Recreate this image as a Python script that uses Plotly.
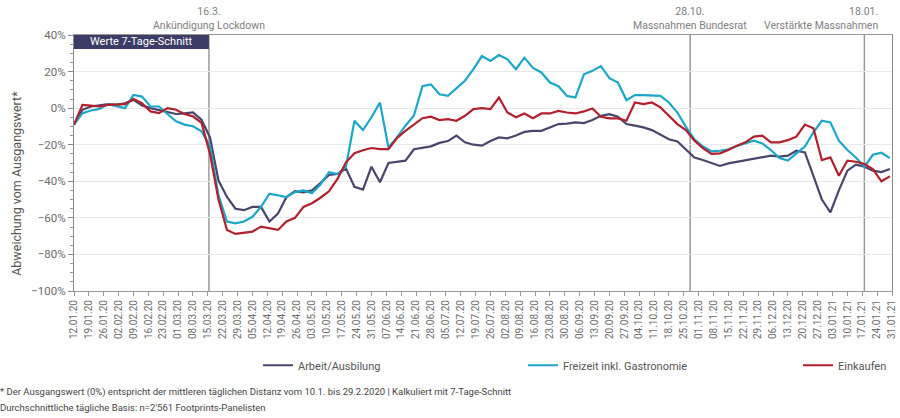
import pandas as pd
import plotly.graph_objects as go

# ---- data (4-day spacing) ----
dates = [
    "2020-01-12", "2020-01-16", "2020-01-20", "2020-01-24", "2020-01-28", "2020-02-01", "2020-02-05", "2020-02-09",
    "2020-02-13", "2020-02-17", "2020-02-21", "2020-02-25", "2020-02-29", "2020-03-04", "2020-03-08", "2020-03-12",
    "2020-03-16", "2020-03-20", "2020-03-24", "2020-03-28", "2020-04-01", "2020-04-05", "2020-04-09", "2020-04-13",
    "2020-04-17", "2020-04-21", "2020-04-25", "2020-04-29", "2020-05-03", "2020-05-07", "2020-05-11", "2020-05-15",
    "2020-05-19", "2020-05-23", "2020-05-27", "2020-05-31", "2020-06-04", "2020-06-08", "2020-06-12", "2020-06-16",
    "2020-06-20", "2020-06-24", "2020-06-28", "2020-07-02", "2020-07-06", "2020-07-10", "2020-07-14", "2020-07-18",
    "2020-07-22", "2020-07-26", "2020-07-30", "2020-08-03", "2020-08-07", "2020-08-11", "2020-08-15", "2020-08-19",
    "2020-08-23", "2020-08-27", "2020-08-31", "2020-09-04", "2020-09-08", "2020-09-12", "2020-09-16", "2020-09-20",
    "2020-09-24", "2020-09-28", "2020-10-02", "2020-10-06", "2020-10-10", "2020-10-14", "2020-10-18", "2020-10-22",
    "2020-10-26", "2020-10-30", "2020-11-03", "2020-11-07", "2020-11-11", "2020-11-15", "2020-11-19", "2020-11-23",
    "2020-11-27", "2020-12-01", "2020-12-05", "2020-12-09", "2020-12-13", "2020-12-17", "2020-12-21", "2020-12-25",
    "2020-12-29", "2021-01-02", "2021-01-06", "2021-01-10", "2021-01-14", "2021-01-18", "2021-01-22", "2021-01-26",
    "2021-01-30",
]

arbeit = [
    -9, -0.9, 0.9, 1.4, 2.2, 1.8, 2.7, 4.5, 1.4, 0,
    -1, -2.2, -3.2, -2.9, -2.3, -6.3, -16, -39.6, -48.6, -55,
    -55.8, -54, -54, -62, -57.6, -48.6, -45.4, -46, -45, -41,
    -36.5, -36, -33, -43, -44.5, -32, -40.5, -30, -29.5, -28.7,
    -22.5, -21.5, -20.9, -19, -18, -15, -18.7, -20, -20.5, -18,
    -16, -16.5, -15, -13, -12.4, -12.4, -10.5, -8.7, -8.5, -7.8,
    -8.2, -6.5, -4.2, -3.3, -4.7, -8.7, -9.6, -10.5, -12, -14.5,
    -17, -18.2, -22.4, -27, -28.4, -30.2, -31.6, -30.2, -29.3, -28.7,
    -27.8, -26.5, -26, -26.5, -26, -23.3, -24.2, -37, -50, -57,
    -45, -34.2, -30.9, -32, -34.2, -35, -33.3,
]

freizeit = [
    -9, -2.7, -1.3, -0.4, 2.2, 0.9, 0, 7.2, 6.3, 0.9,
    0.9, -3.2, -7.2, -9, -9.9, -12.6, -20.7, -47.7, -62, -63,
    -62, -59.4, -54, -46.8, -47.7, -48.6, -45.9, -45, -46.5, -41.8,
    -35, -36, -32, -6.9, -12, -5, 3, -21.5, -16, -9.6,
    -4, 12, 13, 7.6, 6.7, 11, 15, 21.3, 28.5, 25.8,
    29, 26.7, 21.3, 27.6, 22, 19.5, 14, 12, 6.7, 5.8,
    18.5, 20.4, 23, 16.4, 14, 4.4, 7.1, 7.1, 6.7, 6.7,
    3.1, -2.4, -10.2, -17, -21, -23.6, -23.3, -22.5, -20.7, -19.3,
    -17.8, -19.3, -22.9, -27.3, -28.7, -24.7, -21, -13.3, -6.9, -7.8,
    -17.8, -22.9, -27, -32, -25.5, -24.4, -27.3,
]

einkaufen = [
    -9, 1.8, 1.4, 0.9, 1.8, 2.2, 2.2, 5, 2.7, -1.8,
    -2.7, 0, -0.9, -3.2, -4.5, -8, -25, -50, -66.6, -68.8,
    -68, -67.5, -64.8, -65.7, -66.6, -62, -60, -54, -52, -49,
    -45.5, -38.7, -29.6, -24.7, -23, -21.8, -22.4, -22.4, -16.4, -12.4,
    -9, -5.5, -4.7, -6.5, -6, -6.9, -4.2, -0.5, 0, -0.5,
    5.8, -2.4, -5, -2.9, -5.5, -2.9, -2.9, -1.5, -2.4, -2.9,
    -1.8, -0.2, -4.7, -5.6, -5.6, -6.9, 3.1, 2.2, 3.1, 0.4,
    -4.2, -8.7, -12, -17.8, -21.8, -25, -24.7, -22.9, -20.5, -18.7,
    -15.6, -15, -18.7, -18.7, -17.5, -15.6, -9, -11, -28.4, -26.9,
    -37, -28.7, -29.3, -30.5, -33.3, -40, -37.3,
]

series_names = ["Arbeit/Ausbilung", "Freizeit inkl. Gastronomie", "Einkaufen"]
series_colors = ["#48476b", "#1ba7c9", "#b21f2d"]

event_dates = ["2020-03-15 12:00", "2020-10-28", "2021-01-18"]
event_days = ["16.3.", "28.10.", "18.01."]
event_texts = ["Ankündigung Lockdown", "Massnahmen Bundesrat", "Verstärkte Massnahmen"]

tick_dates = pd.date_range("2020-01-12", "2021-01-31", freq="7D")
tick_labels = [d.strftime("%d.%m.%y") for d in tick_dates]

FONT = "Roboto, Open Sans, sans-serif"
GRAY = "#6b6b6b"

legend_ids = ["legend", "legend2", "legend3"]
legend_x = [0.2249, 0.5489, 0.8851]

fig = go.Figure()
for name, vals, col, lid in zip(series_names, [arbeit, freizeit, einkaufen], series_colors, legend_ids):
    fig.add_trace(go.Scatter(x=pd.to_datetime(dates), y=vals, mode="lines", name=name,
                             line=dict(color=col, width=2.2), legend=lid))

# event lines
for d in event_dates:
    fig.add_shape(type="line", xref="x", yref="y", x0=d, x1=d, y0=-100, y1=40,
                  line=dict(color="#9a9a9a", width=1.5), layer="below")

# header box
fig.add_shape(type="rect", xref="x", yref="y", x0="2020-01-12", x1=event_dates[0], y0=32.4, y1=40,
              fillcolor="#3c3d66", line=dict(width=0))
fig.add_annotation(xref="x", yref="y", x="2020-02-12 18:00", y=36.2, text="Werte 7-Tage-Schnitt",
                   showarrow=False, font=dict(family=FONT, size=11, color="white"))

# event annotations
anchors = ["center", "center", "right"]
for d, day, txt, anc in zip(event_dates, event_days, event_texts, anchors):
    xx = d if anc == "center" else "2021-01-25 12:00"
    fig.add_annotation(xref="x", yref="paper", x=xx, y=1.0, yshift=1, yanchor="bottom",
                       xanchor=anc, align=anc, text=day + "<br>" + txt, showarrow=False,
                       font=dict(family=FONT, size=10.5, color="#808080"))

# y-axis title
fig.add_annotation(xref="paper", yref="paper", x=-0.0705, y=0.42, text="Abweichung vom Ausgangswert*",
                   textangle=-90, showarrow=False, xanchor="center", yanchor="middle",
                   font=dict(family=FONT, size=12.5, color="#555"))

# footnotes
fig.add_annotation(xref="paper", yref="paper", x=-0.0935, y=-0.395, xanchor="left", yanchor="middle",
                   text="* Der Ausgangswert (0%) entspricht der mittleren täglichen Distanz vom 10.1. bis 29.2.2020 | Kalkuliert mit 7-Tage-Schnitt",
                   showarrow=False, font=dict(family=FONT, size=9.5, color="#444"))
fig.add_annotation(xref="paper", yref="paper", x=-0.0935, y=-0.455, xanchor="left", yanchor="middle",
                   text="Durchschnittliche tägliche Basis: n=2'561 Footprints-Panelisten",
                   showarrow=False, font=dict(family=FONT, size=9.5, color="#444"))

legend_common = dict(orientation="h", xanchor="left", y=-0.29, yanchor="middle",
                     font=dict(family=FONT, size=11, color="#555"), itemwidth=30,
                     bgcolor="rgba(0,0,0,0)")

fig.update_layout(
    width=900, height=418,
    margin=dict(l=74, r=8, t=35, b=127),
    plot_bgcolor="white", paper_bgcolor="white",
    font=dict(family=FONT, color=GRAY),
    showlegend=True,
    legend=dict(x=legend_x[0], **legend_common),
    legend2=dict(x=legend_x[1], **legend_common),
    legend3=dict(x=legend_x[2], **legend_common),
    xaxis=dict(type="date", range=["2020-01-12", "2021-01-31"], tickmode="array",
               tickvals=tick_dates, ticktext=tick_labels, tickangle=-90, automargin=False,
               tickfont=dict(family=FONT, size=10, color=GRAY), ticks="outside", ticklen=4,
               tickcolor="#999", showgrid=False, showline=True, linecolor="#999", linewidth=1.2,
               mirror=True, zeroline=False),
    yaxis=dict(range=[-100, 40], dtick=20, tick0=0, ticksuffix="%", automargin=False,
               tickfont=dict(family=FONT, size=11.5, color=GRAY),
               ticks="outside", ticklen=5, tickcolor="#888", showgrid=True, gridcolor="#e8e8e8",
               gridwidth=1, showline=True, linecolor="#888", linewidth=1.2, mirror=True, zeroline=False,
               minor=dict(ticks="outside", ticklen=3, dtick=5, tickcolor="#999", showgrid=False)),
)

fig.write_html("out.html", config={"displayModeBar": False},
               post_script="document.body.style.margin='0';document.body.style.padding='0';")
